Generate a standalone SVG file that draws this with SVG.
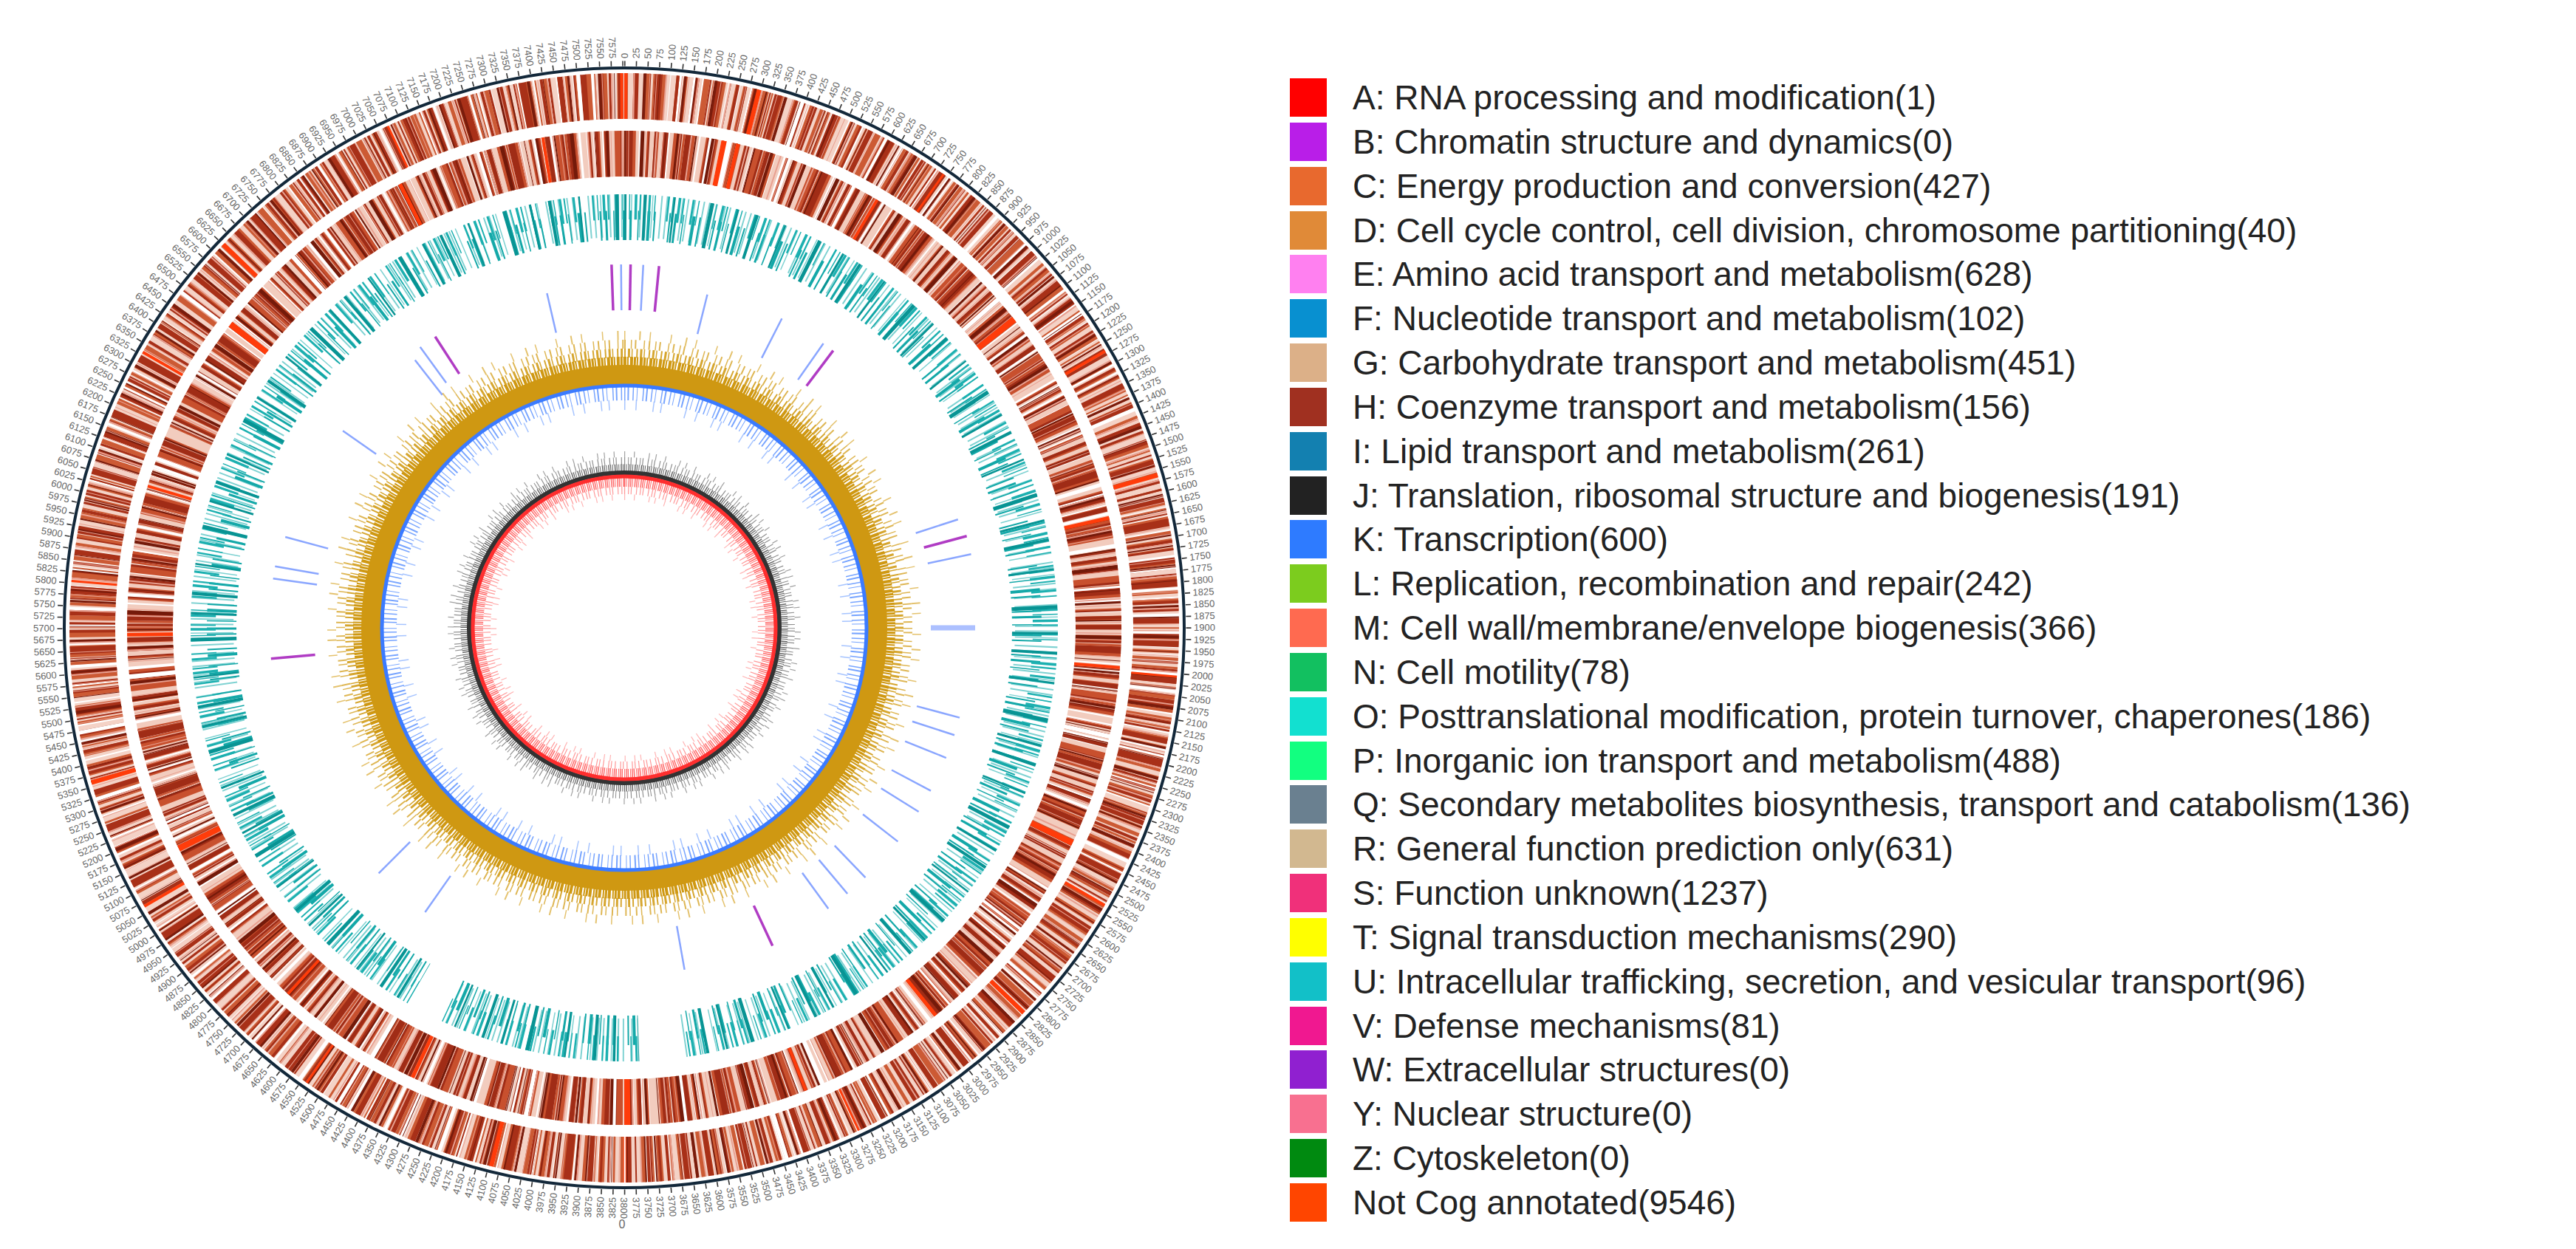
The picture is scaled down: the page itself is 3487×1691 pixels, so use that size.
<svg xmlns="http://www.w3.org/2000/svg" width="3487" height="1691" viewBox="0 0 3487 1691">
<style>
.lg text{font-family:"Liberation Sans",Arial,sans-serif;font-size:46px;fill:#222}
.rg{fill:none}
.tk text{font-family:"Liberation Sans",Arial,sans-serif;font-size:13px;fill:#666}
.r0{transform:rotate(-90deg) translate(771px,4.5px)}
.r1{transform:rotate(-88.816deg) translate(771px,4.5px)}
.r2{transform:rotate(-87.632deg) translate(771px,4.5px)}
.r3{transform:rotate(-86.447deg) translate(771px,4.5px)}
.r4{transform:rotate(-85.263deg) translate(771px,4.5px)}
.r5{transform:rotate(-84.079deg) translate(771px,4.5px)}
.r6{transform:rotate(-82.895deg) translate(771px,4.5px)}
.r7{transform:rotate(-81.711deg) translate(771px,4.5px)}
.r8{transform:rotate(-80.526deg) translate(771px,4.5px)}
.r9{transform:rotate(-79.342deg) translate(771px,4.5px)}
.l0,.l1,.l2,.l3,.l4,.l5,.l6,.l7,.l8,.l9{text-anchor:end}
.l0{transform:rotate(90deg) translate(-771px,4.5px)}
.l1{transform:rotate(91.184deg) translate(-771px,4.5px)}
.l2{transform:rotate(92.368deg) translate(-771px,4.5px)}
.l3{transform:rotate(93.553deg) translate(-771px,4.5px)}
.l4{transform:rotate(94.737deg) translate(-771px,4.5px)}
.l5{transform:rotate(95.921deg) translate(-771px,4.5px)}
.l6{transform:rotate(97.105deg) translate(-771px,4.5px)}
.l7{transform:rotate(98.289deg) translate(-771px,4.5px)}
.l8{transform:rotate(99.474deg) translate(-771px,4.5px)}
.l9{transform:rotate(100.658deg) translate(-771px,4.5px)}
.nb{stroke:#8aa6ff;stroke-width:2.5}
.nm{stroke:#b03cc4;stroke-width:3.5}
</style>
<rect width="3487" height="1691" fill="#fff"/>
<g id="genome-map" transform="translate(845 850)">
 <g id="ring-cog-forward" class="rg" transform="rotate(-90)">
  <circle r="720" stroke="#f4d2c6" stroke-width="62" stroke-dasharray="14 3 9 2 20 5 7 1 11 4"/>
  <circle r="720" stroke="#cc5a34" stroke-width="62" stroke-dasharray="5 7 3 11 8 4 2 9 6 13 4 6"/>
  <circle r="720" stroke="#a83018" stroke-width="62" stroke-dasharray="3 9 7 14 2 5 10 18 4 7"/>
  <circle r="720" stroke="#7a1c0c" stroke-width="62" stroke-dasharray="2 23 4 17 1 31 3 12"/>
  <circle r="720" stroke="#e8a090" stroke-width="62" stroke-dasharray="1 11 2 19 1 8"/>
  <circle r="720" stroke="#ff3c0a" stroke-width="62" stroke-dasharray="4 170 6 260 3 310"/>
  <circle r="720" stroke="#ffffff" stroke-width="64" stroke-dasharray="0 90 3 140 5 210 2 120 1 33"/>
 </g>
 <g id="ring-cog-reverse" class="rg" transform="rotate(-77)">
  <circle r="642" stroke="#f2ccbe" stroke-width="62" stroke-dasharray="12 2 8 4 17 3 6 2 10 5"/>
  <circle r="642" stroke="#c8502e" stroke-width="62" stroke-dasharray="6 5 2 12 9 3 3 8 5 14 3 7"/>
  <circle r="642" stroke="#a02c16" stroke-width="62" stroke-dasharray="4 8 6 15 3 4 9 20 2 6"/>
  <circle r="642" stroke="#741a0a" stroke-width="62" stroke-dasharray="3 21 2 19 5 27 1 14"/>
  <circle r="642" stroke="#e8a090" stroke-width="62" stroke-dasharray="1 13 2 7 1 21"/>
  <circle r="642" stroke="#ff3c0a" stroke-width="62" stroke-dasharray="5 190 4 230 8 280"/>
  <circle r="642" stroke="#ffffff" stroke-width="64" stroke-dasharray="0 70 4 130 3 190 6 160 1 40"/>
 </g>
 <g id="ring-ncrna" class="rg" transform="rotate(-90)">
  <circle r="558" stroke="#7fd2d2" stroke-width="58" stroke-dasharray="2 7 1.5 10 2 5"/>
  <circle r="545" stroke="#14a8a8" stroke-width="40" stroke-dasharray="2 5 3 8 1.5 11 4 5 2 18"/>
  <circle r="570" stroke="#1cb0b0" stroke-width="34" stroke-dasharray="2.5 4 1.5 6 3.5 3 2 10 3 5 1.5 16"/>
  <circle r="556" stroke="#089494" stroke-width="62" stroke-dasharray="3 22 4 35 2.5 45 5 30"/>
  <circle r="556" stroke="#ffffff" stroke-width="66" pathLength="360" stroke-dasharray="0 172 6 27 5 150"/>
 </g>
 <g id="ring-rrna" stroke-linecap="butt">
  <line class="nm" transform="rotate(-2)" y1="-430" y2="-492"/>
  <line class="nm" transform="rotate(1)" y1="-430" y2="-492"/>
  <line class="nb" transform="rotate(3)" y1="-430" y2="-492"/>
  <line class="nb" transform="rotate(-0.5)" y1="-430" y2="-492"/>
  <line class="nm" transform="rotate(5.5)" y1="-430" y2="-492"/>
  <line class="nb" transform="rotate(-13)" y1="-410" y2="-465"/>
  <line class="nb" transform="rotate(14)" y1="-410" y2="-465"/>
  <line class="nb" transform="rotate(27)" y1="-410" y2="-470"/>
  <line class="nb" transform="rotate(35)" y1="-410" y2="-470"/>
  <line class="nm" transform="rotate(37)" y1="-410" y2="-470"/>
  <line class="nm" transform="rotate(-33)" y1="-410" y2="-470"/>
  <line class="nb" transform="rotate(-36)" y1="-410" y2="-470"/>
  <line class="nb" transform="rotate(-38)" y1="-400" y2="-460"/>
  <line class="nb" transform="rotate(-55)" y1="-410" y2="-465"/>
  <line class="nb" transform="rotate(72)" y1="-415" y2="-475"/>
  <line class="nm" transform="rotate(75)" y1="-420" y2="-480"/>
  <line class="nb" transform="rotate(78)" y1="-420" y2="-480"/>
  <line class="nb" transform="rotate(-75)" y1="-415" y2="-475"/>
  <line class="nb" transform="rotate(-80)" y1="-420" y2="-480"/>
  <line class="nb" transform="rotate(-82)" y1="-420" y2="-480"/>
  <line class="nb" transform="rotate(90)" y1="-415" y2="-475" style="stroke-width:7;opacity:.7"/>
  <line class="nm" transform="rotate(-95)" y1="-420" y2="-480"/>
  <line class="nb" transform="rotate(105)" y1="-410" y2="-470"/>
  <line class="nb" transform="rotate(108)" y1="-410" y2="-470"/>
  <line class="nb" transform="rotate(112)" y1="-410" y2="-470"/>
  <line class="nb" transform="rotate(118)" y1="-410" y2="-470"/>
  <line class="nb" transform="rotate(122)" y1="-410" y2="-470"/>
  <line class="nb" transform="rotate(128)" y1="-410" y2="-470"/>
  <line class="nb" transform="rotate(136)" y1="-410" y2="-470"/>
  <line class="nb" transform="rotate(140)" y1="-410" y2="-470"/>
  <line class="nb" transform="rotate(144)" y1="-410" y2="-470"/>
  <line class="nm" transform="rotate(155)" y1="-415" y2="-475"/>
  <line class="nb" transform="rotate(170)" y1="-410" y2="-470"/>
  <line class="nb" transform="rotate(-135)" y1="-410" y2="-470"/>
  <line class="nb" transform="rotate(-145)" y1="-410" y2="-470"/>
 </g>
 <g id="ring-gc-content" class="rg" transform="rotate(-90)">
  <circle r="342" stroke="#cf9812" stroke-width="28"/>
  <circle r="361" stroke="#cf9812" stroke-width="12" stroke-dasharray="3 1 2 2 4 1"/>
  <circle r="372" stroke="#d29c18" stroke-width="12" opacity="0.9" stroke-dasharray="2 3 3 2 1.5 5"/>
  <circle r="384" stroke="#d6a428" stroke-width="12" opacity="0.8" stroke-dasharray="2 7 1.5 4 2 10 1.5 5"/>
  <circle r="396" stroke="#d8a830" stroke-width="12" opacity="0.7" stroke-dasharray="1.5 19 2 12 1.5 27"/>
  <circle r="317" stroke="#4a86ff" stroke-width="18" opacity="0.75" stroke-dasharray="1.5 3 2 5 1.5 4 1 7"/>
  <circle r="302" stroke="#6a9cff" stroke-width="14" opacity="0.6" stroke-dasharray="1.5 14 1.5 22 1.5 9 1.5 32"/>
  <circle r="328" stroke="#3b7bff" stroke-width="5"/>
 </g>
 <g id="ring-gc-skew" class="rg" transform="rotate(-90)">
  <circle r="210" stroke="#333" stroke-width="6"/>
  <circle r="217" stroke="#333" stroke-width="9" opacity="0.75" stroke-dasharray="1.2 1.5 1 2 1.5 1.2"/>
  <circle r="226" stroke="#444" stroke-width="10" opacity="0.6" stroke-dasharray="1.2 4 1 2.5 1.2 6"/>
  <circle r="235" stroke="#444" stroke-width="8" opacity="0.5" stroke-dasharray="1.2 12 1.2 19 1.2 8"/>
  <circle r="205" stroke="#ff2e2e" stroke-width="5"/>
  <circle r="197" stroke="#ff3a3a" stroke-width="12" opacity="0.75" stroke-dasharray="1.5 1.2 1 2 1.5 1"/>
  <circle r="186" stroke="#ff5555" stroke-width="10" opacity="0.6" stroke-dasharray="1.2 4 1.2 2.5 1.2 6"/>
  <circle r="177" stroke="#ff6a6a" stroke-width="8" opacity="0.5" stroke-dasharray="1.2 12 1.2 19 1.2 7"/>
 </g>
 <g id="ring-scale" class="rg" transform="rotate(-90)">
  <circle r="758" stroke="#13283a" stroke-width="4"/>
  <circle r="764" stroke="#333" stroke-width="7" stroke-dasharray="1.6 14.18"/>
 </g>
 <g id="scale-labels" class="tk">
  <g><text class="r0">0</text><text class="r1">25</text><text class="r2">50</text><text class="r3">75</text><text class="r4">100</text><text class="r5">125</text><text class="r6">150</text><text class="r7">175</text><text class="r8">200</text><text class="r9">225</text></g>
  <g transform="rotate(11.842)"><text class="r0">250</text><text class="r1">275</text><text class="r2">300</text><text class="r3">325</text><text class="r4">350</text><text class="r5">375</text><text class="r6">400</text><text class="r7">425</text><text class="r8">450</text><text class="r9">475</text></g>
  <g transform="rotate(23.684)"><text class="r0">500</text><text class="r1">525</text><text class="r2">550</text><text class="r3">575</text><text class="r4">600</text><text class="r5">625</text><text class="r6">650</text><text class="r7">675</text><text class="r8">700</text><text class="r9">725</text></g>
  <g transform="rotate(35.526)"><text class="r0">750</text><text class="r1">775</text><text class="r2">800</text><text class="r3">825</text><text class="r4">850</text><text class="r5">875</text><text class="r6">900</text><text class="r7">925</text><text class="r8">950</text><text class="r9">975</text></g>
  <g transform="rotate(47.368)"><text class="r0">1000</text><text class="r1">1025</text><text class="r2">1050</text><text class="r3">1075</text><text class="r4">1100</text><text class="r5">1125</text><text class="r6">1150</text><text class="r7">1175</text><text class="r8">1200</text><text class="r9">1225</text></g>
  <g transform="rotate(59.211)"><text class="r0">1250</text><text class="r1">1275</text><text class="r2">1300</text><text class="r3">1325</text><text class="r4">1350</text><text class="r5">1375</text><text class="r6">1400</text><text class="r7">1425</text><text class="r8">1450</text><text class="r9">1475</text></g>
  <g transform="rotate(71.053)"><text class="r0">1500</text><text class="r1">1525</text><text class="r2">1550</text><text class="r3">1575</text><text class="r4">1600</text><text class="r5">1625</text><text class="r6">1650</text><text class="r7">1675</text><text class="r8">1700</text><text class="r9">1725</text></g>
  <g transform="rotate(82.895)"><text class="r0">1750</text><text class="r1">1775</text><text class="r2">1800</text><text class="r3">1825</text><text class="r4">1850</text><text class="r5">1875</text><text class="r6">1900</text><text class="r7">1925</text><text class="r8">1950</text><text class="r9">1975</text></g>
  <g transform="rotate(94.737)"><text class="r0">2000</text><text class="r1">2025</text><text class="r2">2050</text><text class="r3">2075</text><text class="r4">2100</text><text class="r5">2125</text><text class="r6">2150</text><text class="r7">2175</text><text class="r8">2200</text><text class="r9">2225</text></g>
  <g transform="rotate(106.579)"><text class="r0">2250</text><text class="r1">2275</text><text class="r2">2300</text><text class="r3">2325</text><text class="r4">2350</text><text class="r5">2375</text><text class="r6">2400</text><text class="r7">2425</text><text class="r8">2450</text><text class="r9">2475</text></g>
  <g transform="rotate(118.421)"><text class="r0">2500</text><text class="r1">2525</text><text class="r2">2550</text><text class="r3">2575</text><text class="r4">2600</text><text class="r5">2625</text><text class="r6">2650</text><text class="r7">2675</text><text class="r8">2700</text><text class="r9">2725</text></g>
  <g transform="rotate(130.263)"><text class="r0">2750</text><text class="r1">2775</text><text class="r2">2800</text><text class="r3">2825</text><text class="r4">2850</text><text class="r5">2875</text><text class="r6">2900</text><text class="r7">2925</text><text class="r8">2950</text><text class="r9">2975</text></g>
  <g transform="rotate(142.105)"><text class="r0">3000</text><text class="r1">3025</text><text class="r2">3050</text><text class="r3">3075</text><text class="r4">3100</text><text class="r5">3125</text><text class="r6">3150</text><text class="r7">3175</text><text class="r8">3200</text><text class="r9">3225</text></g>
  <g transform="rotate(153.947)"><text class="r0">3250</text><text class="r1">3275</text><text class="r2">3300</text><text class="r3">3325</text><text class="r4">3350</text><text class="r5">3375</text><text class="r6">3400</text><text class="r7">3425</text><text class="r8">3450</text><text class="r9">3475</text></g>
  <g transform="rotate(165.789)"><text class="r0">3500</text><text class="r1">3525</text><text class="r2">3550</text><text class="r3">3575</text><text class="r4">3600</text><text class="r5">3625</text><text class="r6">3650</text><text class="r7">3675</text><text class="r8">3700</text><text class="r9">3725</text></g>
  <g transform="rotate(177.632)"><text class="r0">3750</text><text class="r1">3775</text><text class="r2">3800</text><text class="l3">3825</text><text class="l4">3850</text><text class="l5">3875</text><text class="l6">3900</text><text class="l7">3925</text><text class="l8">3950</text><text class="l9">3975</text></g>
  <g transform="rotate(189.474)"><text class="l0">4000</text><text class="l1">4025</text><text class="l2">4050</text><text class="l3">4075</text><text class="l4">4100</text><text class="l5">4125</text><text class="l6">4150</text><text class="l7">4175</text><text class="l8">4200</text><text class="l9">4225</text></g>
  <g transform="rotate(201.316)"><text class="l0">4250</text><text class="l1">4275</text><text class="l2">4300</text><text class="l3">4325</text><text class="l4">4350</text><text class="l5">4375</text><text class="l6">4400</text><text class="l7">4425</text><text class="l8">4450</text><text class="l9">4475</text></g>
  <g transform="rotate(213.158)"><text class="l0">4500</text><text class="l1">4525</text><text class="l2">4550</text><text class="l3">4575</text><text class="l4">4600</text><text class="l5">4625</text><text class="l6">4650</text><text class="l7">4675</text><text class="l8">4700</text><text class="l9">4725</text></g>
  <g transform="rotate(225)"><text class="l0">4750</text><text class="l1">4775</text><text class="l2">4800</text><text class="l3">4825</text><text class="l4">4850</text><text class="l5">4875</text><text class="l6">4900</text><text class="l7">4925</text><text class="l8">4950</text><text class="l9">4975</text></g>
  <g transform="rotate(236.842)"><text class="l0">5000</text><text class="l1">5025</text><text class="l2">5050</text><text class="l3">5075</text><text class="l4">5100</text><text class="l5">5125</text><text class="l6">5150</text><text class="l7">5175</text><text class="l8">5200</text><text class="l9">5225</text></g>
  <g transform="rotate(248.684)"><text class="l0">5250</text><text class="l1">5275</text><text class="l2">5300</text><text class="l3">5325</text><text class="l4">5350</text><text class="l5">5375</text><text class="l6">5400</text><text class="l7">5425</text><text class="l8">5450</text><text class="l9">5475</text></g>
  <g transform="rotate(260.526)"><text class="l0">5500</text><text class="l1">5525</text><text class="l2">5550</text><text class="l3">5575</text><text class="l4">5600</text><text class="l5">5625</text><text class="l6">5650</text><text class="l7">5675</text><text class="l8">5700</text><text class="l9">5725</text></g>
  <g transform="rotate(272.368)"><text class="l0">5750</text><text class="l1">5775</text><text class="l2">5800</text><text class="l3">5825</text><text class="l4">5850</text><text class="l5">5875</text><text class="l6">5900</text><text class="l7">5925</text><text class="l8">5950</text><text class="l9">5975</text></g>
  <g transform="rotate(284.211)"><text class="l0">6000</text><text class="l1">6025</text><text class="l2">6050</text><text class="l3">6075</text><text class="l4">6100</text><text class="l5">6125</text><text class="l6">6150</text><text class="l7">6175</text><text class="l8">6200</text><text class="l9">6225</text></g>
  <g transform="rotate(296.053)"><text class="l0">6250</text><text class="l1">6275</text><text class="l2">6300</text><text class="l3">6325</text><text class="l4">6350</text><text class="l5">6375</text><text class="l6">6400</text><text class="l7">6425</text><text class="l8">6450</text><text class="l9">6475</text></g>
  <g transform="rotate(307.895)"><text class="l0">6500</text><text class="l1">6525</text><text class="l2">6550</text><text class="l3">6575</text><text class="l4">6600</text><text class="l5">6625</text><text class="l6">6650</text><text class="l7">6675</text><text class="l8">6700</text><text class="l9">6725</text></g>
  <g transform="rotate(319.737)"><text class="l0">6750</text><text class="l1">6775</text><text class="l2">6800</text><text class="l3">6825</text><text class="l4">6850</text><text class="l5">6875</text><text class="l6">6900</text><text class="l7">6925</text><text class="l8">6950</text><text class="l9">6975</text></g>
  <g transform="rotate(331.579)"><text class="l0">7000</text><text class="l1">7025</text><text class="l2">7050</text><text class="l3">7075</text><text class="l4">7100</text><text class="l5">7125</text><text class="l6">7150</text><text class="l7">7175</text><text class="l8">7200</text><text class="l9">7225</text></g>
  <g transform="rotate(343.421)"><text class="l0">7250</text><text class="l1">7275</text><text class="l2">7300</text><text class="l3">7325</text><text class="l4">7350</text><text class="l5">7375</text><text class="l6">7400</text><text class="l7">7425</text><text class="l8">7450</text><text class="l9">7475</text></g>
  <g transform="rotate(355.263)"><text class="l0">7500</text><text class="l1">7525</text><text class="l2">7550</text><text class="l3">7575</text></g>
 </g>
 <text x="-3" y="813" font-family="Liberation Sans, Arial, sans-serif" font-size="16" fill="#666" text-anchor="middle">0</text>
</g>
<g id="legend" class="lg">
 <rect x="1746" y="106" width="50" height="52" fill="#ff0000"/><text x="1831" y="148">A: RNA processing and modification(1)</text>
 <rect x="1746" y="166" width="50" height="52" fill="#b91ee8"/><text x="1831" y="208">B: Chromatin structure and dynamics(0)</text>
 <rect x="1746" y="226" width="50" height="52" fill="#e8692e"/><text x="1831" y="268">C: Energy production and conversion(427)</text>
 <rect x="1746" y="286" width="50" height="52" fill="#e08a38"/><text x="1831" y="328">D: Cell cycle control, cell division, chromosome partitioning(40)</text>
 <rect x="1746" y="345" width="50" height="52" fill="#ff80f0"/><text x="1831" y="387">E: Amino acid transport and metabolism(628)</text>
 <rect x="1746" y="405" width="50" height="52" fill="#0890d0"/><text x="1831" y="447">F: Nucleotide transport and metabolism(102)</text>
 <rect x="1746" y="465" width="50" height="52" fill="#dcb088"/><text x="1831" y="507">G: Carbohydrate transport and metabolism(451)</text>
 <rect x="1746" y="525" width="50" height="52" fill="#a03020"/><text x="1831" y="567">H: Coenzyme transport and metabolism(156)</text>
 <rect x="1746" y="585" width="50" height="52" fill="#1380b0"/><text x="1831" y="627">I: Lipid transport and metabolism(261)</text>
 <rect x="1746" y="645" width="50" height="52" fill="#222222"/><text x="1831" y="687">J: Translation, ribosomal structure and biogenesis(191)</text>
 <rect x="1746" y="704" width="50" height="52" fill="#2e7bff"/><text x="1831" y="746">K: Transcription(600)</text>
 <rect x="1746" y="764" width="50" height="52" fill="#7ccc1e"/><text x="1831" y="806">L: Replication, recombination and repair(242)</text>
 <rect x="1746" y="824" width="50" height="52" fill="#ff6a50"/><text x="1831" y="866">M: Cell wall/membrane/envelope biogenesis(366)</text>
 <rect x="1746" y="884" width="50" height="52" fill="#12c060"/><text x="1831" y="926">N: Cell motility(78)</text>
 <rect x="1746" y="944" width="50" height="52" fill="#12e0d0"/><text x="1831" y="986">O: Posttranslational modification, protein turnover, chaperones(186)</text>
 <rect x="1746" y="1004" width="50" height="52" fill="#12ff80"/><text x="1831" y="1046">P: Inorganic ion transport and metabolism(488)</text>
 <rect x="1746" y="1063" width="50" height="52" fill="#6a8090"/><text x="1831" y="1105">Q: Secondary metabolites biosynthesis, transport and catabolism(136)</text>
 <rect x="1746" y="1123" width="50" height="52" fill="#d2b890"/><text x="1831" y="1165">R: General function prediction only(631)</text>
 <rect x="1746" y="1183" width="50" height="52" fill="#f0307a"/><text x="1831" y="1225">S: Function unknown(1237)</text>
 <rect x="1746" y="1243" width="50" height="52" fill="#ffff00"/><text x="1831" y="1285">T: Signal transduction mechanisms(290)</text>
 <rect x="1746" y="1303" width="50" height="52" fill="#12c0c8"/><text x="1831" y="1345">U: Intracellular trafficking, secretion, and vesicular transport(96)</text>
 <rect x="1746" y="1363" width="50" height="52" fill="#f01890"/><text x="1831" y="1405">V: Defense mechanisms(81)</text>
 <rect x="1746" y="1422" width="50" height="52" fill="#9020d0"/><text x="1831" y="1464">W: Extracellular structures(0)</text>
 <rect x="1746" y="1482" width="50" height="52" fill="#f87090"/><text x="1831" y="1524">Y: Nuclear structure(0)</text>
 <rect x="1746" y="1542" width="50" height="52" fill="#008a10"/><text x="1831" y="1584">Z: Cytoskeleton(0)</text>
 <rect x="1746" y="1602" width="50" height="52" fill="#ff4500"/><text x="1831" y="1644">Not Cog annotated(9546)</text>
</g>
</svg>
